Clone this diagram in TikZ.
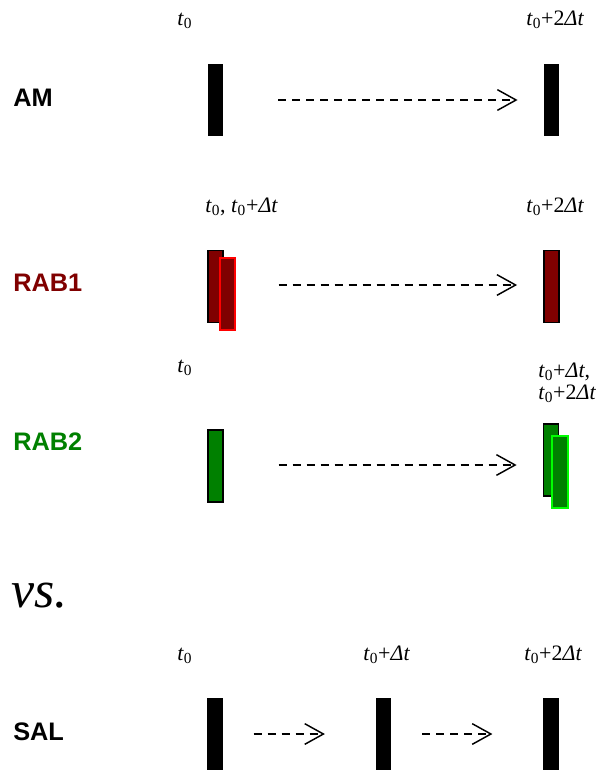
\documentclass[tikz,border=0pt]{standalone}
\usepackage{fontspec}
\setmainfont{Liberation Serif}
\newfontfamily\labelfont{Liberation Sans}
\usetikzlibrary{arrows.meta}

\definecolor{rabred}{HTML}{800000}
\definecolor{rabgreen}{HTML}{008000}
\definecolor{brightred}{HTML}{FF0000}
\definecolor{brightgreen}{HTML}{00FF00}

% time stamps
\newcommand\tz{\textit{t}\textsubscript{0}}
\newcommand\dt{\textit{Δt}}

\begin{document}
\begin{tikzpicture}[x=0.75pt,y=-0.75pt,
  bar/.style={rectangle, inner sep=0pt, minimum width=11.5pt, minimum height=54pt},
  blackbar/.style={bar, fill=black, draw=none},
  redbar/.style={bar, fill=rabred, draw=black, line width=1.1pt},
  redfront/.style={bar, fill=rabred, draw=brightred, line width=1.5pt},
  greenbar/.style={bar, fill=rabgreen, draw=black, line width=1.1pt},
  greenfront/.style={bar, fill=rabgreen, draw=brightgreen, line width=1.5pt},
  stamp/.style={anchor=base west, inner sep=0pt, font=\fontsize{16.5pt}{19pt}\selectfont},
  rowlabel/.style={anchor=base west, inner sep=0pt, font=\labelfont\bfseries\fontsize{19pt}{22pt}\selectfont},
  dasharrow/.style={line width=1.1pt, dash pattern=on 6pt off 4.5pt,
    -{Straight Barb[length=14pt,width=15.5pt,line width=1.1pt]}}]

\useasboundingbox (0,0) rectangle (602,772);

% ---- AM ----
\node[rowlabel] (lam) at (13,106) {AM};
\node[stamp] (sam1) at (177,25) {\tz};
\node[stamp] (sam2) at (526,25) {\tz+2\dt};
\node[blackbar] (am1) at (215.5,100) {};
\node[blackbar] (am2) at (551.5,100) {};
\draw[dasharrow, shorten <=41pt, shorten >=19.5pt] (am1.east) -- (am2.west);

% ---- RAB1 ----
\node[rowlabel, text=rabred] (lr1) at (13,291) {RAB1};
\node[stamp] (sr1a) at (205,212) {\tz, \tz+\dt};
\node[stamp] (sr1b) at (526,212) {\tz+2\dt};
\node[redbar] (r1a) at (215.5,286.5) {};
\node[redfront] (r1b) at (227.5,293.5) {};
\node[redbar] (r1c) at (551.5,286.5) {};
\draw[dasharrow, shorten <=41pt, shorten >=19.5pt] (r1a.east |- 0,285) -- (r1c.west |- 0,285);

% ---- RAB2 ----
\node[rowlabel, text=rabgreen] (lr2) at (13,450) {RAB2};
\node[stamp] (sr2a) at (177,372) {\tz};
\node[stamp] (sr2b) at (538,377) {\tz+\dt,};
\node[stamp] (sr2c) at (538,399) {\tz+2\dt};
\node[greenbar] (r2a) at (215.5,466) {};
\node[greenbar] (r2b) at (551,460) {};
\node[greenfront] (r2c) at (560,472) {};
\draw[dasharrow, shorten <=41pt, shorten >=19.5pt] (r2a.east |- 0,465) -- (r2b.west |- 0,465);

% ---- vs. ----
\node[anchor=base west, inner sep=0pt, font=\fontsize{39pt}{43pt}\selectfont\itshape] (vs) at (11,607) {vs.};

% ---- SAL ----
\node[rowlabel] (lsal) at (13,740) {SAL};
\node[stamp] (ss1) at (177,660) {\tz};
\node[stamp] (ss2) at (363,660) {\tz+\dt};
\node[stamp] (ss3) at (524,660) {\tz+2\dt};
\node[blackbar] (s1) at (215,734) {};
\node[blackbar] (s2) at (383.5,734) {};
\node[blackbar] (s3) at (551,734) {};
\draw[dasharrow, shorten <=23pt, shorten >=38pt] (s1) -- (s2);
\draw[dasharrow, shorten <=23pt, shorten >=38pt] (s2) -- (s3);

\end{tikzpicture}
\end{document}
